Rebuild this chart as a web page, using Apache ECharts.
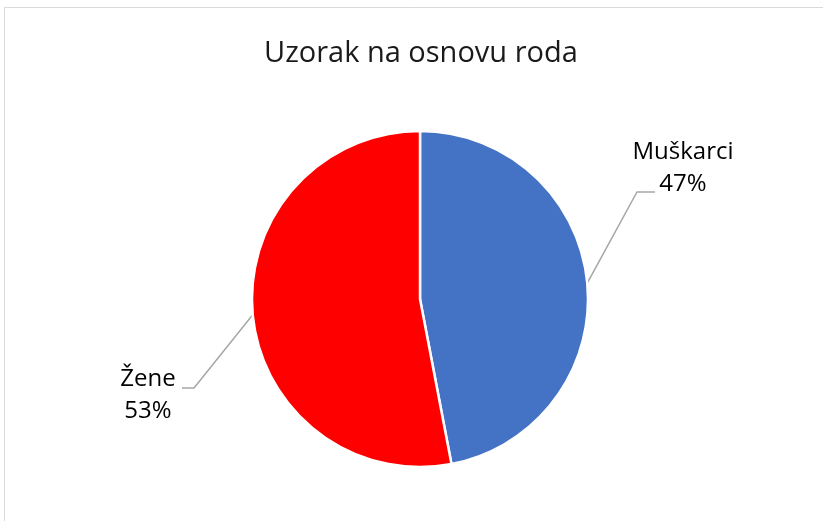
<!DOCTYPE html>
<html>
<head>
<meta charset="utf-8">
<script src="https://cdn.jsdelivr.net/npm/echarts@6/dist/echarts.min.js"></script>
<style>
  html, body { margin: 0; padding: 0; background: #fff; }
  #chart { width: 823px; height: 521px; }
</style>
</head>
<body>
<div id="chart"></div>
<script>
var categories = ['Muškarci', 'Žene'];
var values = [47, 53];
var colors = ['#4472C4', '#FF0000'];

var myChart = echarts.init(document.getElementById('chart'));

var option = {
    animation: false,
    // okvir grafikona
    graphic: [{
        type: 'rect',
        shape: { x: 4.5, y: 7.5, width: 830, height: 530 },
        style: { fill: 'none', stroke: '#D9D9D9', lineWidth: 1 }
    }],
    title: {
        text: 'Uzorak na osnovu roda',
        left: 259,
        top: 34,
        textStyle: {
            fontFamily: 'Open Sans',
            fontSize: 29,
            fontWeight: 'normal',
            color: '#1a1a1a'
        }
    },
    series: [{
        type: 'pie',
        center: [420, 299],
        radius: 168,
        startAngle: 90,
        clockwise: true,
        itemStyle: { borderColor: '#fff', borderWidth: 2.5 },
        label: {
            formatter: '{b}\n{d}%',
            fontFamily: 'Open Sans',
            fontSize: 24,
            lineHeight: 32,
            color: '#000',
            align: 'center'
        },
        labelLine: {
            show: true,
            lineStyle: { color: '#A6A6A6', width: 1.5 }
        },
        labelLayout: function (params) {
            var start = params.labelLinePoints[0];
            if (params.dataIndex === 0) {
                return {
                    x: 683, y: 168, align: 'center', verticalAlign: 'middle',
                    labelLinePoints: [start, [637, 192], [655, 192]]
                };
            }
            return {
                x: 148, y: 395, align: 'center', verticalAlign: 'middle',
                labelLinePoints: [start, [194, 388], [182, 388]]
            };
        },
        data: categories.map(function (name, i) {
            return { name: name, value: values[i], itemStyle: { color: colors[i] } };
        })
    }]
};

myChart.setOption(option);
</script>
</body>
</html>
